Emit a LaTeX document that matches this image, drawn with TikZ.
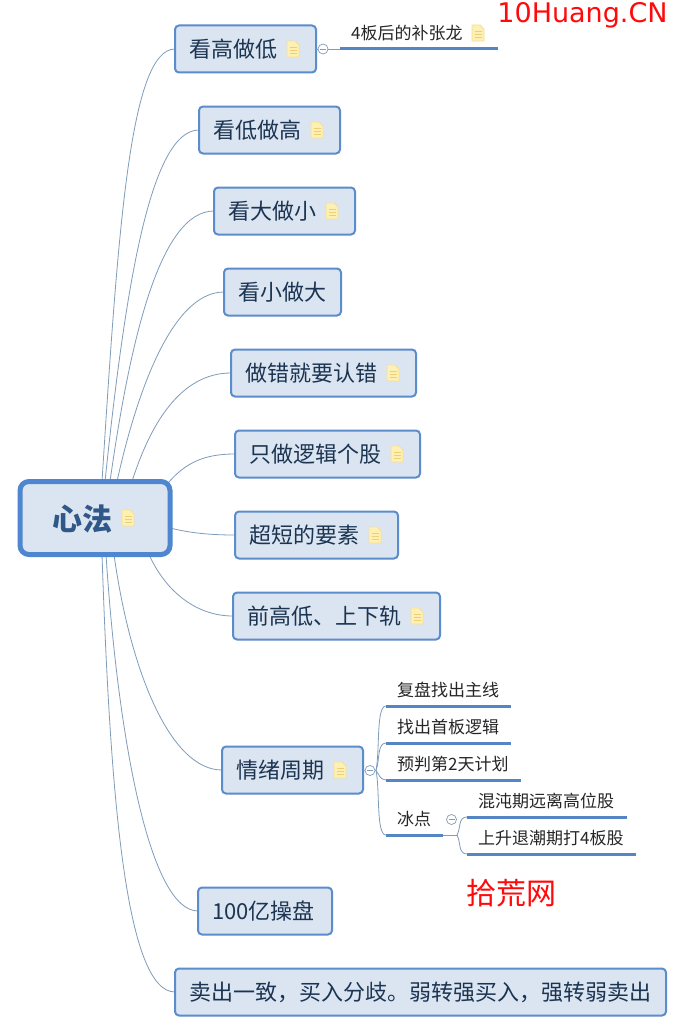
\documentclass[tikz,border=0pt]{standalone}
\usepackage{fontspec}
\setmainfont{Noto Sans CJK SC}
\newfontfamily\wmfont{DejaVu Sans}
\usetikzlibrary{backgrounds,calc}
\definecolor{boxfill}{HTML}{DBE5F1}
\definecolor{boxline}{HTML}{5B8CCB}
\definecolor{rootline}{HTML}{4E86D0}
\definecolor{linkc}{HTML}{7F9CBA}
\definecolor{ul}{HTML}{5585C5}
\definecolor{txt}{HTML}{1B3452}
\definecolor{roottxt}{HTML}{2F5788}
\definecolor{notef}{HTML}{FDF0B4}
\definecolor{notel}{HTML}{F5DE96}
\definecolor{notem}{HTML}{F2CE72}
\definecolor{wm}{HTML}{FF0A0A}
\tikzset{
  x=1pt,y=-1pt,
  mainbox/.style={draw=boxline,fill=boxfill,line width=2pt,rounded corners=4pt,
    inner xsep=14pt,inner ysep=0pt,minimum height=47pt,align=left,font=\fontsize{22}{22}\selectfont,text=txt,outer sep=0pt},
  rootbox/.style={draw=rootline,fill=boxfill,line width=5pt,rounded corners=9pt,
    inner sep=0pt,minimum width=150pt,minimum height=73pt,outer sep=0pt},
  link/.style={draw=linkc,line width=0.8pt},
  subtxt/.style={inner xsep=11pt,inner ysep=0pt,minimum height=32pt,align=left,anchor=south west,
    font=\fontsize{17}{17}\selectfont,text=black!85},
  under/.style={draw=ul,line width=3pt},
  toggle/.style={circle,draw=linkc,fill=white,line width=0.7pt,minimum size=10pt,inner sep=0pt},
  minus/.style={draw=linkc,line width=0.7pt},
  wmtext/.style={text=wm,inner sep=0pt}
}
\newcommand{\mt}[1]{\raisebox{-2pt}{#1}}
\newcommand{\noteicon}[2]{%
  \begin{scope}[shift={(#1,#2)}]
    \draw[notel,fill=notef,line width=0.8pt,line join=round] (-6,-8) -- (2,-8) -- (6,-4) -- (6,8) -- (-6,8) -- cycle;
    \draw[notem,line width=1pt] (-3.5,-1.5) -- (3.5,-1.5) (-3.5,1.5) -- (3.5,1.5) (-3.5,4.5) -- (3.5,4.5);
  \end{scope}}
\begin{document}
\begin{tikzpicture}
\useasboundingbox (0,0) rectangle (683,1033);

\node[rootbox] (root) at (95,518) {};
\node[inner sep=0pt,text=roottxt,font=\fontsize{30}{30}\selectfont\bfseries] (rootlabel) at (82.5,519) {心法};
\noteicon{128}{518}

\node[mainbox,minimum width=141pt,text width=113pt] (n1) at (245.5,49) {\mt{看高做低}};
\node[mainbox,minimum width=141pt,text width=113pt] (n2) at (269.5,130) {\mt{看低做高}};
\node[mainbox,minimum width=141pt,text width=113pt] (n3) at (284.5,211) {\mt{看大做小}};
\node[mainbox,minimum width=117pt,text width=89pt] (n4) at (282.5,292) {\mt{看小做大}};
\node[mainbox,minimum width=185pt,text width=157pt] (n5) at (323.5,373) {\mt{做错就要认错}};
\node[mainbox,minimum width=185pt,text width=157pt] (n6) at (327.5,454) {\mt{只做逻辑个股}};
\node[mainbox,minimum width=163pt,text width=135pt] (n7) at (316.5,535) {\mt{超短的要素}};
\node[mainbox,minimum width=207pt,text width=179pt] (n8) at (336.5,616) {\mt{前高低、上下轨}};
\node[mainbox,minimum width=141pt,text width=113pt] (n9) at (292.5,770) {\mt{情绪周期}};
\node[mainbox,minimum width=134pt,text width=106pt] (n10) at (265,911) {\mt{100亿操盘}};
\node[mainbox,minimum width=491pt,text width=463pt] (n11) at (420.5,992) {\mt{卖出一致，买入分歧。弱转强买入，强转弱卖出}};

\noteicon{293}{49}
\noteicon{317}{130}
\noteicon{332}{211}
\noteicon{393}{373}
\noteicon{397}{454}
\noteicon{375}{535}
\noteicon{417}{616}
\noteicon{340}{770}

\begin{scope}[on background layer]
\fill[white] (0,0) rectangle (683,1033);
\draw[link] ($(root.north)+(7,0)$) .. controls (118,230) and (130,49) .. (n1.west);
\draw[link] ($(root.north)+(10,0)$) .. controls (125,290) and (150,130) .. (n2.west);
\draw[link] ($(root.north)+(15,0)$) .. controls (130,340) and (160,211) .. (n3.west);
\draw[link] ($(root.north)+(22,0)$) .. controls (135,400) and (170,292) .. (n4.west);
\draw[link] ($(root.north)+(37,0)$) .. controls (150,425) and (180,373) .. (n5.west);
\draw[link] ($(root.north east)+(-4,4)$) .. controls (185,462) and (205,454) .. (n6.west);
\draw[link] ($(root.east)+(0,10)$) .. controls (190,533) and (210,535) .. (n7.west);
\draw[link] ($(root.south)+(54,0)$) .. controls (165,590) and (195,616) .. (n8.west);
\draw[link] ($(root.south)+(19,0)$) .. controls (130,670) and (170,770) .. (n9.west);
\draw[link] ($(root.south)+(11,0)$) .. controls (118,740) and (150,911) .. (n10.west);
\draw[link] ($(root.south)+(7,0)$) .. controls (110,790) and (125,992) .. (n11.west);
\end{scope}

% sub topics
\node[subtxt,text width=136pt] (s1) at (340,49) {4板后的补张龙};
\draw[under] (s1.south west) -- (s1.south east);
\noteicon{478}{33}
\node[toggle] (t1) at (323,49) {};
\draw[minus] ($(t1.center)+(-3,0)$) -- ($(t1.center)+(3,0)$);
\draw[link] (n1.east) -- (t1.west);
\draw[link] (t1.east) -- (s1.south west);

\node[subtxt,text width=103pt] (a1) at (386,706) {复盘找出主线};
\node[subtxt,text width=103pt] (a2) at (386,743) {找出首板逻辑};
\node[subtxt,text width=113pt] (a3) at (386,780) {预判第2天计划};
\node[subtxt,text width=35pt] (a4) at (386,835) {冰点};
\node[subtxt,text width=138pt] (b1) at (467,817) {混沌期远离高位股};
\node[subtxt,text width=147pt] (b2) at (467,854) {上升退潮期打4板股};
\foreach \k in {a1,a2,a3,a4,b1,b2}{\draw[under] (\k.south west) -- (\k.south east);}

\node[toggle] (t9) at (370,770.5) {};
\draw[minus] ($(t9.center)+(-3,0)$) -- ($(t9.center)+(3,0)$);
\draw[link] (n9.east) -- (t9.west);
\coordinate (j9) at (376,770.5);
\draw[link] (t9.east) -- (j9);
\draw[link] (j9) .. controls (380,750) and (376,706) .. (a1.south west);
\draw[link] (j9) .. controls (380,760) and (377,743) .. (a2.south west);
\draw[link] (j9) .. controls (379,774) and (380,780) .. (a3.south west);
\draw[link] (j9) .. controls (380,790) and (376,835) .. (a4.south west);

\node[toggle] (t4) at (451.5,819.5) {};
\draw[minus] ($(t4.center)+(-3,0)$) -- ($(t4.center)+(3,0)$);
\coordinate (j4) at (457,835);
\draw[link] (a4.south east) -- (j4);
\draw[link] (j4) .. controls (461,828) and (458,817) .. (b1.south west);
\draw[link] (j4) .. controls (461,842) and (458,854) .. (b2.south west);

\node[wmtext,font=\wmfont\fontsize{27}{27}\selectfont,anchor=base] (wm1) at (582.5,23) {10Huang.CN};
\node[wmtext,font=\fontsize{30}{30}\selectfont,anchor=center] (wm2) at (511.5,893) {拾荒网};
\end{tikzpicture}
\end{document}
